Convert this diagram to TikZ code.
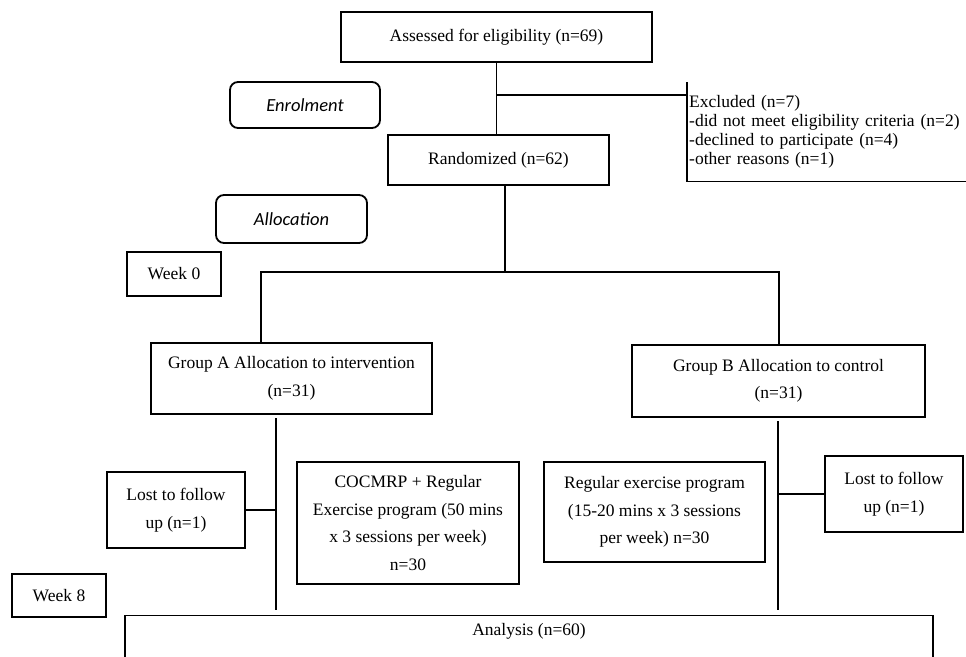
\documentclass[tikz,border=0pt]{standalone}
\usepackage{fontspec}
\setmainfont{Liberation Serif}
\newfontfamily\calib{Carlito}
\usepackage{tikz}

\begin{document}
\begin{tikzpicture}[x=1pt,y=-1pt,
    every node/.style={inner sep=3pt,font={\fontsize{17.5}{27.5}\selectfont},align=center},
    box/.style={draw,line width=2pt,minimum width=#1},
    tag/.style={draw,line width=1.8pt,rounded corners=8pt,font={\calib\itshape\fontsize{18.5}{20}\selectfont}},
    link/.style={line width=1.8pt}]
        \useasboundingbox (0,0) rectangle (966,656);
        \clip (0,0) rectangle (966,656);
        \node[box=311,minimum height=50] (assess) at (496.5,37) {Assessed for eligibility (n=69)};
        \node[anchor=north west,text width=284,align=left,minimum height=99,inner sep=2pt,
              font={\fontsize{17.5}{19}\selectfont}] (excl) at (687,82)
              {Excluded (n=7)\\-did not meet eligibility criteria (n=2)\\-declined to participate (n=4)\\-other reasons (n=1)};
        \node[tag,minimum width=150,minimum height=46] (enrol) at (305,105) {Enrolment};
        \node[box=221,minimum height=50] (rand) at (498.5,160) {Randomized (n=62)};
        \node[tag,minimum width=151,minimum height=48] (alloc) at (291.5,219) {Allocation};
        \node[box=94,minimum height=44] (week0) at (174,274) {Week 0};
        \node[box=281,minimum height=71] (grpA) at (291.5,378.5) {Group A Allocation to intervention\\(n=31)};
        \node[box=293,minimum height=72] (grpB) at (778.5,381) {Group B Allocation to control\\(n=31)};
        \node[box=138,minimum height=76] (lostA) at (176,510) {Lost to follow\\up (n=1)};
        \node[box=222,minimum height=122] (interv) at (408,523) {COCMRP + Regular\\Exercise program (50 mins\\x 3 sessions per week)\\n=30};
        \node[box=221,minimum height=100] (ctrl) at (654.5,512) {Regular exercise program\\(15-20 mins x 3 sessions\\per week) n=30};
        \node[box=138,minimum height=76] (lostB) at (894,494) {Lost to follow\\up (n=1)};
        \node[box=94,minimum height=43] (week8) at (59,595.5) {Week 8};
        \node[draw,line width=1.4pt,anchor=north,minimum width=808,minimum height=100,
              label={[anchor=north,yshift=-5pt]north:Analysis (n=60)}] (anal) at (529,615) {};
        \coordinate (ex) at (497,95);
        \coordinate (split) at (505,272);
        \coordinate (sA) at (261,272);
        \coordinate (sB) at (779,272);
        \coordinate (dA) at (276,418);
        \coordinate (eA) at (276,610);
        \coordinate (dB) at (778,421);
        \coordinate (eB) at (778,610);
        \draw[line width=1.2pt] (excl.north west) -- (excl.south west) -- (excl.south east);
        \draw[link] (assess.south) -- (assess.south |- rand.north);
        \draw[link] (ex) -- (ex -| excl.west);
        \draw[link] (split |- rand.south) -- (split);
        \draw[link] (sA |- grpA.north) -- (sA) -- (sB) -- (sB |- grpB.north);
        \draw[link] (dA) -- (eA) (lostA.east) -- (lostA.east -| dA);
        \draw[link] (dB) -- (eB) (lostB.west) -- (lostB.west -| dB);
      \end{tikzpicture}
\end{document}
